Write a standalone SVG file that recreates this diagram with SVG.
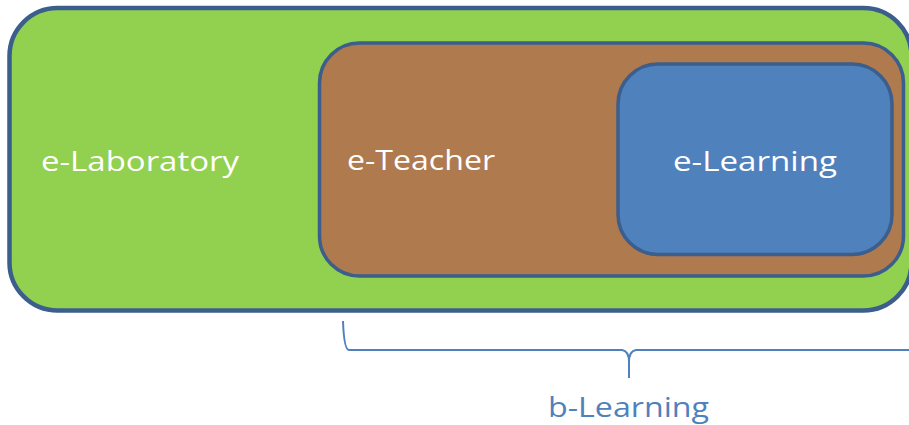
<svg xmlns="http://www.w3.org/2000/svg" width="909" height="425" viewBox="0 0 909 425">
  <style>
    .box { stroke: #3B5E8C; }
    .lbl { font-family: "Open Sans", "Liberation Sans", sans-serif; font-size: 28px; fill: #FFFFFF; }
    .brace { fill: none; stroke: #4F81BD; stroke-width: 2; }
    .blbl { font-family: "Open Sans", "Liberation Sans", sans-serif; font-size: 28px; fill: #4F81BD; }
  </style>
  <rect width="909" height="425" fill="#FFFFFF"/>
  <g id="e-laboratory">
    <rect class="box" x="9.5" y="8" width="902" height="302.5" rx="48" ry="48" fill="#92D050" stroke-width="4.5"/>
    <text class="lbl" x="41" y="171" textLength="198" lengthAdjust="spacingAndGlyphs">e-Laboratory</text>
  </g>
  <g id="e-teacher">
    <rect class="box" x="319.5" y="43" width="584" height="233" rx="40" ry="40" fill="#B07A4F" stroke-width="3.5"/>
    <text class="lbl" x="347" y="170" textLength="148" lengthAdjust="spacingAndGlyphs">e-Teacher</text>
  </g>
  <g id="e-learning">
    <rect class="box" x="618" y="64" width="274" height="190.5" rx="40" ry="40" fill="#4F81BD" stroke-width="3.5"/>
    <text class="lbl" x="673" y="171" textLength="164" lengthAdjust="spacingAndGlyphs">e-Learning</text>
  </g>
  <g id="connectors">
    <path class="brace" d="M343,321 Q344,350 349,350 L622,350 Q629,351 629,362 L629,378 M629,362 Q629,351 636,350 L912,350"/>
  </g>
  <g id="b-learning">
    <text class="blbl" x="548" y="417" textLength="161" lengthAdjust="spacingAndGlyphs">b-Learning</text>
  </g>
</svg>
